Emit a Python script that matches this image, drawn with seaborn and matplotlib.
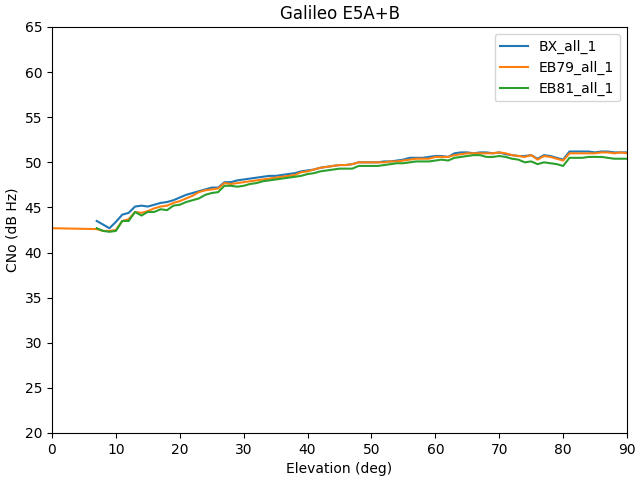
import matplotlib
matplotlib.use("Agg")
import matplotlib.pyplot as plt
import seaborn as sns
import pandas as pd
import numpy as np

elev = list(range(7, 91))
bx = [43.5, 43.1, 42.7, 43.4, 44.2, 44.4, 45.1, 45.2, 45.1, 45.3,
      45.5, 45.6, 45.8, 46.1, 46.4, 46.6, 46.8, 47.0, 47.2, 47.2,
      47.8, 47.8, 48.0, 48.1, 48.2, 48.3, 48.4, 48.5, 48.5, 48.6,
      48.7, 48.8, 49.0, 49.1, 49.2, 49.4, 49.5, 49.6, 49.7, 49.7,
      49.8, 50.0, 50.0, 50.0, 50.0, 50.1, 50.1, 50.2, 50.3, 50.5,
      50.5, 50.5, 50.6, 50.7, 50.7, 50.6, 51.0, 51.1, 51.1, 51.0,
      51.1, 51.1, 51.0, 51.1, 50.9, 50.8, 50.7, 50.7, 50.8, 50.4,
      50.8, 50.7, 50.5, 50.3, 51.2, 51.2, 51.2, 51.2, 51.1, 51.2,
      51.2, 51.1, 51.1, 51.1]
elev79 = [0] + list(range(7, 91))
eb79 = [42.7,
        42.6, 42.4, 42.4, 42.5, 43.5, 43.7, 44.5, 44.4, 44.6, 44.9,
        45.1, 45.2, 45.5, 45.7, 46.0, 46.3, 46.7, 46.9, 47.0, 47.1,
        47.7, 47.6, 47.7, 47.8, 47.9, 48.0, 48.1, 48.2, 48.3, 48.4,
        48.5, 48.6, 48.9, 49.0, 49.2, 49.4, 49.5, 49.6, 49.7, 49.7,
        49.8, 50.0, 50.0, 50.0, 50.0, 50.0, 50.1, 50.1, 50.2, 50.3,
        50.4, 50.4, 50.4, 50.6, 50.6, 50.6, 50.8, 50.9, 51.0, 51.0,
        51.0, 51.0, 51.0, 51.1, 51.0, 50.8, 50.7, 50.6, 50.8, 50.3,
        50.7, 50.6, 50.4, 50.2, 51.0, 51.0, 51.0, 51.0, 51.0, 51.1,
        51.1, 51.0, 51.1, 51.0]
eb81 = [42.7, 42.4, 42.3, 42.4, 43.5, 43.5, 44.5, 44.1, 44.5, 44.5,
        44.8, 44.7, 45.2, 45.3, 45.6, 45.8, 46.0, 46.4, 46.6, 46.7,
        47.4, 47.4, 47.3, 47.4, 47.6, 47.7, 47.9, 48.0, 48.1, 48.2,
        48.3, 48.4, 48.5, 48.7, 48.8, 49.0, 49.1, 49.2, 49.3, 49.3,
        49.3, 49.6, 49.6, 49.6, 49.6, 49.7, 49.8, 49.9, 49.9, 50.0,
        50.1, 50.1, 50.1, 50.2, 50.3, 50.2, 50.5, 50.6, 50.7, 50.8,
        50.8, 50.6, 50.6, 50.7, 50.6, 50.4, 50.3, 50.0, 50.1, 49.8,
        50.0, 49.9, 49.8, 49.6, 50.5, 50.5, 50.5, 50.6, 50.6, 50.6,
        50.5, 50.4, 50.4, 50.4]

df = pd.concat([
    pd.DataFrame({"Elevation": elev, "CNo": bx, "series": "BX_all_1"}),
    pd.DataFrame({"Elevation": elev79, "CNo": eb79, "series": "EB79_all_1"}),
    pd.DataFrame({"Elevation": elev, "CNo": eb81, "series": "EB81_all_1"}),
], ignore_index=True)

fig, ax = plt.subplots(figsize=(6.4, 4.8), dpi=100)
sns.lineplot(data=df, x="Elevation", y="CNo", hue="series",
             palette=["#1f77b4", "#ff7f0e", "#2ca02c"], ax=ax, linewidth=1.5)
ax.set_xlim(0, 90)
ax.set_ylim(20, 65)
ax.set_xlabel("Elevation (deg)")
ax.set_ylabel("CNo (dB Hz)")
ax.set_title("Galileo E5A+B")
ax.legend(loc="upper right", title=None)
fig.subplots_adjust(left=52/640, right=627/640, top=1-27/480, bottom=1-433/480)
fig.savefig("out.png", dpi=100)
